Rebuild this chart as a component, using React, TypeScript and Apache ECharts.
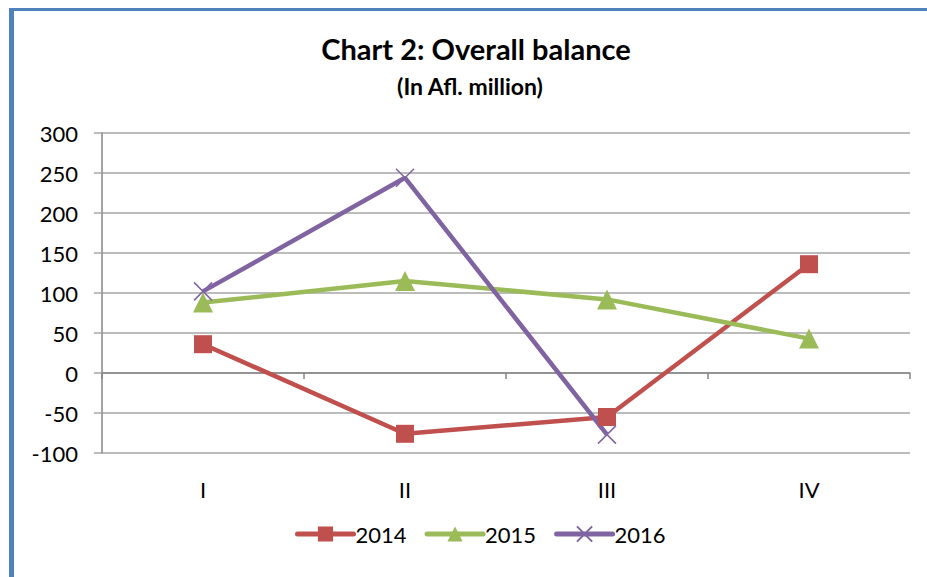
import React, { useEffect, useRef } from "react";
import * as echarts from "echarts";

const categories = ["I", "II", "III", "IV"];
const series2014 = [36, -76, -55, 136];
const series2015 = [88, 115, 92, 43];
const series2016: (number | null)[] = [102, 244, -77, null];
const yTicks = { min: -100, max: 300, interval: 50 };

const FONT = "Lato, 'Open Sans', sans-serif";
const RED = "#C0504D";
const GREEN = "#9BBB59";
const PURPLE = "#8064A2";
const AXIS = "#868686";
const GRID = "#a6a6a6";

export default function App() {
  const ref = useRef<HTMLDivElement>(null);
  useEffect(() => {
    if (!ref.current) return;
    const chart = echarts.init(ref.current, undefined, { renderer: "svg" });
    chart.setOption({
      animation: false,
      backgroundColor: "#ffffff",
      textStyle: { fontFamily: FONT },
      graphic: [
        { type: "rect", shape: { x: 9, y: 8, width: 5, height: 580 }, style: { fill: "#4F81BD" }, z: 100 },
        { type: "rect", shape: { x: 9, y: 8, width: 930, height: 3 }, style: { fill: "#4F81BD" }, z: 100 },
        {
          type: "text",
          x: 476,
          y: 48,
          style: {
            text: "Chart 2: Overall balance",
            fontFamily: FONT,
            fontSize: 29,
            fontWeight: "bold",
            fill: "#000",
            textAlign: "center",
            textVerticalAlign: "middle",
          },
        },
        {
          type: "text",
          x: 470,
          y: 86,
          style: {
            text: "(In Afl. million)",
            fontFamily: FONT,
            fontSize: 23,
            fontWeight: "bold",
            fill: "#000",
            textAlign: "center",
            textVerticalAlign: "middle",
          },
        },
      ],
      grid: { left: 102, right: 17, top: 133, bottom: 124, containLabel: false },
      legend: {
        left: 290,
        top: 518,
        itemWidth: 56,
        itemHeight: 19,
        itemGap: 18,
        lineStyle: { width: 5, cap: "round" },
        textStyle: { fontFamily: FONT, fontSize: 22, color: "#000", padding: [0, 0, 0, -3] },
        data: ["2014", "2015", "2016"],
      },
      xAxis: [
        {
          type: "category",
          data: categories,
          boundaryGap: true,
          position: "bottom",
          axisLine: { show: true, onZero: true, lineStyle: { color: AXIS, width: 1.5 } },
          axisTick: { show: true, length: 6, inside: false, lineStyle: { color: AXIS, width: 1.5 } },
          axisLabel: { show: false },
          splitLine: { show: false },
        },
        {
          type: "category",
          data: categories,
          boundaryGap: true,
          position: "bottom",
          axisLine: { show: false, onZero: false },
          axisTick: { show: false },
          axisLabel: { show: true, margin: 25, fontFamily: FONT, fontSize: 22, color: "#000" },
          splitLine: { show: false },
        },
      ],
      yAxis: {
        type: "value",
        min: yTicks.min,
        max: yTicks.max,
        interval: yTicks.interval,
        axisLine: { show: true, lineStyle: { color: AXIS, width: 1.5 } },
        axisTick: { show: true, length: 8, lineStyle: { color: GRID, width: 1.5 } },
        axisLabel: { margin: 24, fontFamily: FONT, fontSize: 22, color: "#000" },
        splitLine: { show: true, lineStyle: { color: GRID, width: 1.5 } },
      },
      series: [
        {
          name: "2014",
          type: "line",
          data: series2014,
          symbol: "rect",
          symbolSize: 18,
          lineStyle: { color: RED, width: 4.5 },
          itemStyle: { color: RED },
        },
        {
          name: "2015",
          type: "line",
          data: series2015,
          symbol: "triangle",
          symbolSize: 20,
          lineStyle: { color: GREEN, width: 4.5 },
          itemStyle: { color: GREEN },
        },
        {
          name: "2016",
          type: "line",
          data: series2016,
          symbol: "path://M0,0L10,10M10,0L0,10",
          symbolSize: 18,
          lineStyle: { color: PURPLE, width: 4.5 },
          itemStyle: { color: PURPLE, borderColor: PURPLE, borderWidth: 1.5 },
        },
      ],
    });
    return () => chart.dispose();
  }, []);
  return (
    <div
      ref={ref}
      style={{ position: "absolute", left: 0, top: 0, width: 927, height: 577 }}
    />
  );
}
